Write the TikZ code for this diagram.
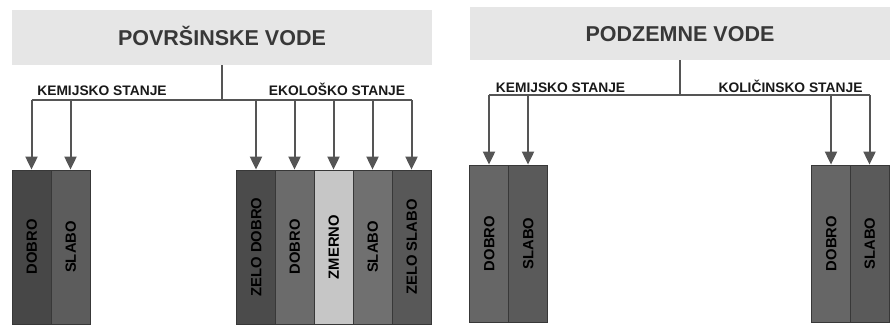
\documentclass[tikz,border=0pt]{standalone}
\usepackage{fontspec}
\setmainfont{Liberation Sans}[BoldFont={Liberation Sans Bold}]
\newfontfamily\heavysans{Liberation Sans Bold}
\usetikzlibrary{arrows.meta}
\definecolor{titlefill}{HTML}{E6E6E6}
\definecolor{linegray}{HTML}{555555}
\definecolor{edgegray}{HTML}{383838}
\definecolor{cA}{HTML}{474747}
\definecolor{cB}{HTML}{5C5C5C}
\definecolor{cC}{HTML}{4B4B4B}
\definecolor{cD}{HTML}{6B6B6B}
\definecolor{cE}{HTML}{C6C6C6}
\definecolor{cF}{HTML}{707070}
\definecolor{cG}{HTML}{585858}
\definecolor{cH}{HTML}{666666}
\definecolor{cI}{HTML}{5A5A5A}
\begin{document}
\begin{tikzpicture}[x=1pt,y=-1pt,
  titlebox/.style={fill=titlefill,draw=none,inner sep=0pt,minimum width=420pt,
    font=\heavysans\fontsize{21.5}{24}\selectfont,text=black!78,text height=15.5pt,text depth=0pt},
  grouplabel/.style={anchor=base,inner sep=0pt,font=\heavysans\fontsize{13.8}{16}\selectfont,text=black!90},
  statebox/.style={draw=edgegray,line width=0.8pt,inner sep=0pt,minimum width=39pt},
  statetext/.style={rotate=90,inner sep=0pt,font=\heavysans\fontsize{14.8}{16}\selectfont,
    text=black,text height=10.6pt,text depth=0pt},
  conn/.style={draw=linegray,line width=2pt},
  arr/.style={conn,-{Triangle[width=12pt,length=13pt]}}
]
\useasboundingbox (0,0) rectangle (890,324);

% ---------- Left: POVRSINSKE VODE ----------
\node[titlebox,minimum height=55pt] (t1) at (222,37.5) {POVRŠINSKE VODE};
\coordinate (j1) at (222,100);
\node[grouplabel] (k1) at (102,95) {KEMIJSKO STANJE};
\node[grouplabel] (e1) at (337,95) {EKOLOŠKO STANJE};

\node[statebox,fill=cA,minimum height=154pt] (b1) at (31.5,247) {};
\node[statebox,fill=cB,minimum height=154pt] (b2) at (70.5,247) {};
\node[statebox,fill=cC,minimum height=154pt] (b3) at (256,247) {};
\node[statebox,fill=cD,minimum height=154pt] (b4) at (294.5,247) {};
\node[statebox,fill=cE,minimum height=154pt] (b5) at (333.5,247) {};
\node[statebox,fill=cF,minimum height=154pt] (b6) at (372.5,247) {};
\node[statebox,fill=cG,minimum height=154pt] (b7) at (411.5,247) {};

\node[statetext] (s1) at (b1) {DOBRO};
\node[statetext] (s2) at (b2) {SLABO};
\node[statetext] (s3) at (b3) {ZELO DOBRO};
\node[statetext] (s4) at (b4) {DOBRO};
\node[statetext] (s5) at (b5) {ZMERNO};
\node[statetext] (s6) at (b6) {SLABO};
\node[statetext] (s7) at (b7) {ZELO SLABO};

\draw[conn] (t1.south) -- (j1);
\draw[conn] (b1.north |- j1) -- (b7.north |- j1);
\foreach \b in {b1,b2,b3,b4,b5,b6,b7}
  \draw[arr] (\b.north |- j1) -- (\b.north);

% ---------- Right: PODZEMNE VODE ----------
\node[titlebox,minimum height=53pt] (t2) at (680,33.5) {PODZEMNE VODE};
\coordinate (j2) at (680,95);
\node[grouplabel] (k2) at (560.5,92) {KEMIJSKO STANJE};
\node[grouplabel] (q2) at (790.5,92) {KOLIČINSKO STANJE};

\node[statebox,fill=cH,minimum height=157pt] (c1) at (489,243.5) {};
\node[statebox,fill=cI,minimum height=157pt] (c2) at (528,243.5) {};
\node[statebox,fill=cH,minimum height=157pt] (c3) at (831,243.5) {};
\node[statebox,fill=cI,minimum height=157pt] (c4) at (869.5,243.5) {};

\node[statetext] (r1) at (c1) {DOBRO};
\node[statetext] (r2) at (c2) {SLABO};
\node[statetext] (r3) at (c3) {DOBRO};
\node[statetext] (r4) at (c4) {SLABO};

\draw[conn] (t2.south) -- (j2);
\draw[conn] (c1.north |- j2) -- (c4.north |- j2);
\foreach \b in {c1,c2,c3,c4}
  \draw[arr] (\b.north |- j2) -- (\b.north);
\end{tikzpicture}
\end{document}
